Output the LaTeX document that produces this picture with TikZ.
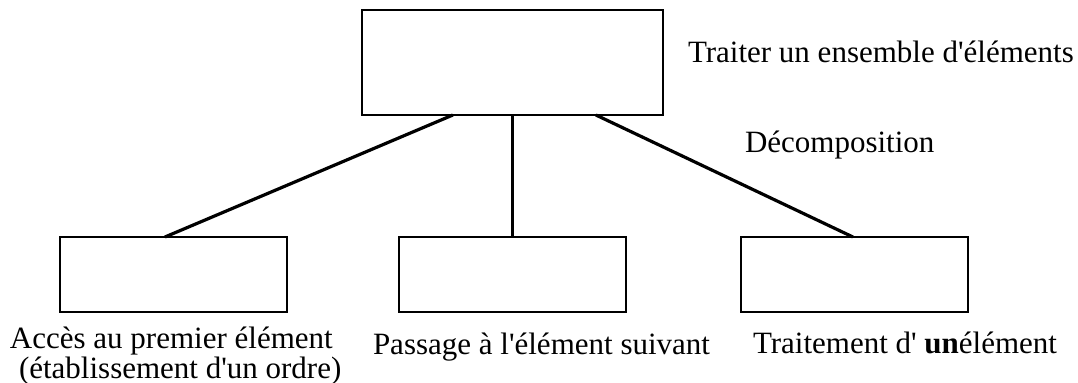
\documentclass[tikz,border=0pt]{standalone}
\usepackage{fontspec}
\setmainfont{Liberation Serif}
\usetikzlibrary{calc}
\newcommand{\sq}{\textquotesingle}
\begin{document}
\begin{tikzpicture}[x=0.5pt,y=-0.5pt,
  boxnode/.style={draw,line width=1.3pt,inner sep=0pt,outer sep=0pt},
  topbox/.style={boxnode,minimum width=150.5pt,minimum height=52.5pt},
  subbox/.style={boxnode,minimum width=113.5pt,minimum height=37.5pt},
  lab/.style={anchor=base west,inner sep=0pt,outer sep=0pt,font=\fontsize{15.5pt}{18pt}\selectfont},
  edgediag/.style={line width=1.6pt},
  edgevert/.style={line width=1.1pt}]
\useasboundingbox (0,0) rectangle (1078,383);
\node[topbox] (top) at (512.5,62.5) {};
\node[subbox] (left) at (173.5,274.5) {};
\node[subbox] (mid) at (512.5,274.5) {};
\node[subbox] (right) at (854.5,274.5) {};
\draw[edgediag] ($(top.south west)!0.302!(top.south east)$) -- ($(left.north west)!0.4625!(left.north east)$);
\draw[edgevert] (top.south) -- (mid.north);
\draw[edgediag] ($(top.south west)!0.777!(top.south east)$) -- ($(right.north west)!0.493!(right.north east)$);
\node[lab] (ttop) at (688,63) {Traiter un ensemble d\sq éléments};
\node[lab] (tdec) at (745,153) {Décomposition};
\node[lab] (tacc) at (10,349) {Accès au premier élément};
\node[lab] (tord) at (19,379) {(établissement d\sq un ordre)};
\node[lab] (tpas) at (373,355) {Passage à l\sq élément suivant};
\node[lab] (ttra) at (753,354) {Traitement d\sq{} \textbf{un}élément};
\end{tikzpicture}
\end{document}
